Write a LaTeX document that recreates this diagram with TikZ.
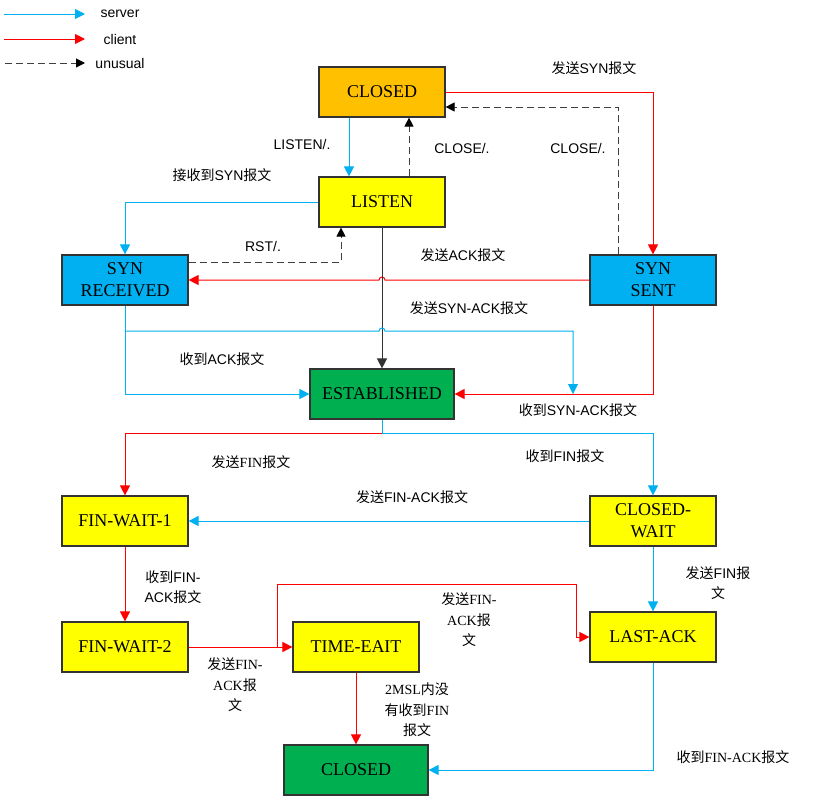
\documentclass[tikz,border=0pt]{standalone}
\usepackage{fontspec}
\setmainfont{Liberation Serif}
\setsansfont{Liberation Sans}
\newfontfamily\cjk{Noto Sans CJK SC}
\newcommand{\zh}[1]{{\cjk #1}}
\usepackage{xcolor}
\usepackage{tikz}
\usetikzlibrary{arrows.meta}
\definecolor{srvblue}{HTML}{00B0F0}
\definecolor{clired}{HTML}{FF0000}
\definecolor{storange}{HTML}{FFC000}
\definecolor{styellow}{HTML}{FFFF00}
\definecolor{stgreen}{HTML}{00B050}

\begin{document}
\begin{tikzpicture}[x=1pt, y=-1pt,
  >={Triangle[length=10pt,width=10pt]},
  st/.style={draw=black!80, line width=1.2pt, minimum width=126pt, minimum height=50pt,
             align=center, font=\fontsize{18}{22}\selectfont},
  wide/.style={st, minimum width=144pt},
  lbl/.style={align=center, font=\sffamily\fontsize{14}{20.5}\selectfont},
  lblr/.style={lbl, font=\rmfamily\fontsize{14}{20.5}\selectfont},
  srv/.style={->, draw=srvblue, line width=1pt},
  cli/.style={->, draw=clired, line width=1pt},
  unu/.style={-{Triangle[length=9pt,width=9pt,black]}, draw=black!75, line width=1pt,
              dash pattern=on 7pt off 4pt},
]
\useasboundingbox (0,0) rectangle (814,801);
% Legend
\coordinate (k1a) at (4,14);  \coordinate (k1b) at (85,14);
\coordinate (k2a) at (4,39);  \coordinate (k2b) at (85,39);
\coordinate (k3a) at (5,63);  \coordinate (k3b) at (85,63);
\draw[srv] (k1a) -- (k1b);
\draw[cli] (k2a) -- (k2b);
\draw[unu] (k3a) -- (k3b);
\node[lbl] (ksrv) at (120,14) {server};
\node[lbl] (kcli) at (120,39) {client};
\node[lbl] (kunu) at (120,63) {unusual};
% States
\node[st, fill=storange]      (c0)  at (382,92)  {CLOSED};
\node[st, fill=styellow]      (ls)  at (382,202) {LISTEN};
\node[st, fill=srvblue]       (sr)  at (125,280) {SYN\\RECEIVED};
\node[st, fill=srvblue]       (ss)  at (653,280) {SYN\\SENT};
\node[wide, fill=stgreen]     (es)  at (382,394) {ESTABLISHED};
\node[st, fill=styellow]      (fw1) at (125,521) {FIN-WAIT-1};
\node[st, fill=styellow]      (cw)  at (653,521) {CLOSED-\\WAIT};
\node[st, fill=styellow]      (fw2) at (125,647) {FIN-WAIT-2};
\node[st, fill=styellow]      (te)  at (356,647) {TIME-EAIT};
\node[st, fill=styellow]      (la)  at (653,637) {LAST-ACK};
\node[wide, fill=stgreen]     (c1)  at (356,770) {CLOSED};
% Open
\draw[srv] ([xshift=-33pt]c0.south) -- ([xshift=-33pt]ls.north);
\draw[unu] ([xshift=27pt]ls.north) -- ([xshift=27pt]c0.south);
\draw[cli] (c0.east) -| (ss.north);
\draw[unu] ([xshift=-35pt]ss.north) |- ([yshift=-15pt]c0.east);
\draw[srv] (ls.west) -| (sr.north);
\draw[unu] ([yshift=18pt]sr.east) -| ([xshift=-41pt]ls.south);
\draw[cli] (ss.west) -- (385,280) arc[start angle=0, end angle=-180, radius=3] -- (sr.east);
\draw[->, line width=1pt, black!80] (ls.south) -- (es.north);
\draw[srv] (sr.south) |- (es.west);
\coordinate (jsr) at (125,331);
\coordinate (jsa) at (573,394);
\draw[srv] (jsr) -- (379,331) arc[start angle=180, end angle=360, radius=3] -| (jsa);
\draw[cli] (ss.south) |- (es.east);
% Close
\coordinate (jes) at (382,433);
\draw[srv] (es.south) -- (jes) -| (cw.north);
\draw[cli] (jes) -| (fw1.north);
\draw[srv] (cw.west) -- (fw1.east);
\draw[cli] (fw1.south) -- (fw2.north);
\draw[cli] (fw2.east) -- (te.west);
\coordinate (jfw) at (277,647);
\draw[cli] (jfw) -- ++(0,-63) -| ([xshift=-13pt]la.west) -- (la.west);
\draw[srv] (cw.south) -- (la.north);
\draw[cli] (te.south) -- (c1.north);
\draw[srv] (la.south) |- (c1.east);
% Labels
\node[lbl] (l1)  at (594,68)  {\zh{发送}SYN\zh{报文}};
\node[lbl] (l2)  at (302,144) {LISTEN/.};
\node[lbl] (l3)  at (462,148) {CLOSE/.};
\node[lbl] (l4)  at (578,148) {CLOSE/.};
\node[lbl] (l5)  at (222,175) {\zh{接收到}SYN\zh{报文}};
\node[lbl] (l6)  at (263,246) {RST/.};
\node[lbl] (l7)  at (463,255) {\zh{发送}ACK\zh{报文}};
\node[lbl] (l8)  at (469,308) {\zh{发送}SYN-ACK\zh{报文}};
\node[lbl] (l9)  at (222,359) {\zh{收到}ACK\zh{报文}};
\node[lbl] (l10) at (578,410) {\zh{收到}SYN-ACK\zh{报文}};
\node[lblr] (l11) at (251,462) {\zh{发送}FIN\zh{报文}};
\node[lbl] (l12) at (565,456) {\zh{收到}FIN\zh{报文}};
\node[lbl] (l13) at (412,497) {\zh{发送}FIN-ACK\zh{报文}};
\node[lbl] (l14) at (173,587) {\zh{收到}FIN-\\ACK\zh{报文}};
\node[lblr] (l15) at (235,685) {\zh{发送}FIN-\\ACK\zh{报}\\\zh{文}};
\node[lblr] (l16) at (469,620) {\zh{发送}FIN-\\ACK\zh{报}\\\zh{文}};
\node[lbl] (l17) at (718,583) {\zh{发送}FIN\zh{报}\\\zh{文}};
\node[lblr] (l18) at (417,710) {2MSL\zh{内没}\\\zh{有收到}FIN\\\zh{报文}};
\node[lblr] (l19) at (733,757) {\zh{收到}FIN-ACK\zh{报文}};
\end{tikzpicture}
\end{document}
